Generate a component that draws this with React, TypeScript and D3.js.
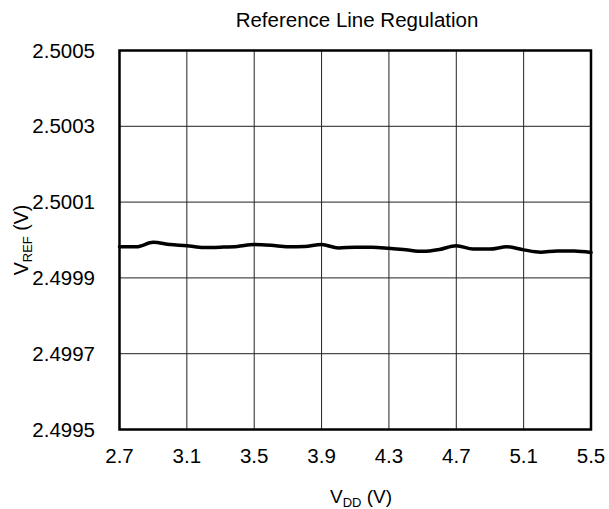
import React from "react";
import * as d3 from "d3";

const vdd = [2.7, 2.8, 2.9, 3.0, 3.1, 3.2, 3.3, 3.4, 3.5, 3.6, 3.7, 3.8, 3.9, 4.0, 4.1, 4.2, 4.3, 4.4, 4.5, 4.6, 4.7, 4.8, 4.9, 5.0, 5.1, 5.2, 5.3, 5.4, 5.5];
const vref = [2.499982, 2.499982, 2.499994, 2.499988, 2.499985, 2.49998, 2.499981, 2.499983, 2.499988, 2.499986, 2.499982, 2.499983, 2.499988, 2.499979, 2.499981, 2.499981, 2.499978, 2.499974, 2.49997, 2.499975, 2.499985, 2.499976, 2.499976, 2.499982, 2.499974, 2.499968, 2.499971, 2.499971, 2.499967];
const xTicks = [2.7, 3.1, 3.5, 3.9, 4.3, 4.7, 5.1, 5.5];
const yTicks = [2.4995, 2.4997, 2.4999, 2.5001, 2.5003, 2.5005];

const W = 609, H = 509;
const L = 119.5, R = 591, T = 50.5, B = 429.5;
const FONT = "Liberation Sans, Arial, sans-serif";

export default function App() {
  const x = d3.scaleLinear().domain([2.7, 5.5]).range([L, R]);
  const y = d3.scaleLinear().domain([2.4995, 2.5005]).range([B, T]);
  const pts = vdd.map((v, i) => [v, vref[i]] as [number, number]);
  const line = d3.line<[number, number]>().x(d => x(d[0])).y(d => y(d[1])).curve(d3.curveMonotoneX);
  return (
    <svg width={W} height={H} style={{ position: "absolute", left: 0, top: 0, background: "#fff" }} fontFamily={FONT}>
      <text x={357} y={27} textAnchor="middle" fontSize={20.5} fill="#000">Reference Line Regulation</text>
      {xTicks.map(t => (
        <line key={"gx" + t} x1={x(t)} x2={x(t)} y1={T} y2={B} stroke="#222" strokeWidth={1} />
      ))}
      {yTicks.map(t => (
        <line key={"gy" + t} x1={L} x2={R} y1={y(t)} y2={y(t)} stroke="#222" strokeWidth={1} />
      ))}
      <rect x={L} y={T} width={R - L} height={B - T} fill="none" stroke="#000" strokeWidth={2.5} />
      <path d={line(pts) || ""} fill="none" stroke="#000" strokeWidth={3.5} strokeLinejoin="round" strokeLinecap="round" />
      {yTicks.map(t => (
        <text key={"ty" + t} x={95} y={y(t) + 7} textAnchor="end" fontSize={20.5} fill="#000">{t.toFixed(4)}</text>
      ))}
      {xTicks.map(t => (
        <text key={"tx" + t} x={x(t)} y={462.5} textAnchor="middle" fontSize={20.5} fill="#000">{t.toFixed(1)}</text>
      ))}
      <text x={361} y={503} textAnchor="middle" fontSize={19} fill="#000">
        V<tspan fontSize={13} dy={4}>DD</tspan><tspan dy={-4}> (V)</tspan>
      </text>
      <text transform={`translate(28,240) rotate(-90)`} textAnchor="middle" fontSize={19.5} fill="#000">
        V<tspan fontSize={13} dy={4}>REF</tspan><tspan dy={-4}> (V)</tspan>
      </text>
    </svg>
  );
}
